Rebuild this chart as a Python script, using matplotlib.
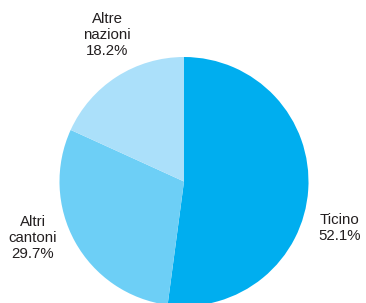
import matplotlib
matplotlib.use("Agg")
import matplotlib.pyplot as plt

labels = ["Ticino", "Altri\ncantoni", "Altre\nnazioni"]
values = [52.1, 29.7, 18.2]
colors = ["#00aeef", "#6dcff6", "#abe0fa"]

plt.rcParams['font.family'] = ['Liberation Sans', 'DejaVu Sans']

W, H = 366, 303
fig = plt.figure(figsize=(W / 100, H / 100), dpi=100)
ax = fig.add_axes([0, 0, 1, 1])

cx, cy, r = 184, H - 181.5, 124.5
ax.pie(values, colors=colors, startangle=90, counterclock=False,
       center=(cx, cy), radius=r, frame=True,
       wedgeprops={'linewidth': 0})
ax.set_xlim(0, W)
ax.set_ylim(0, H)
ax.set_aspect('equal')
ax.axis('off')

# label positions (pixel coords, y from top)
pos = [(340, 228), (33, 238), (107, 35)]
for lab, v, (x, y) in zip(labels, values, pos):
    ax.text(x, H - y, f"{lab}\n{v:.1f}%", ha='center', va='center',
            fontsize=10.8, color='#231f20', linespacing=1.15)

fig.savefig("out.png", dpi=100)
